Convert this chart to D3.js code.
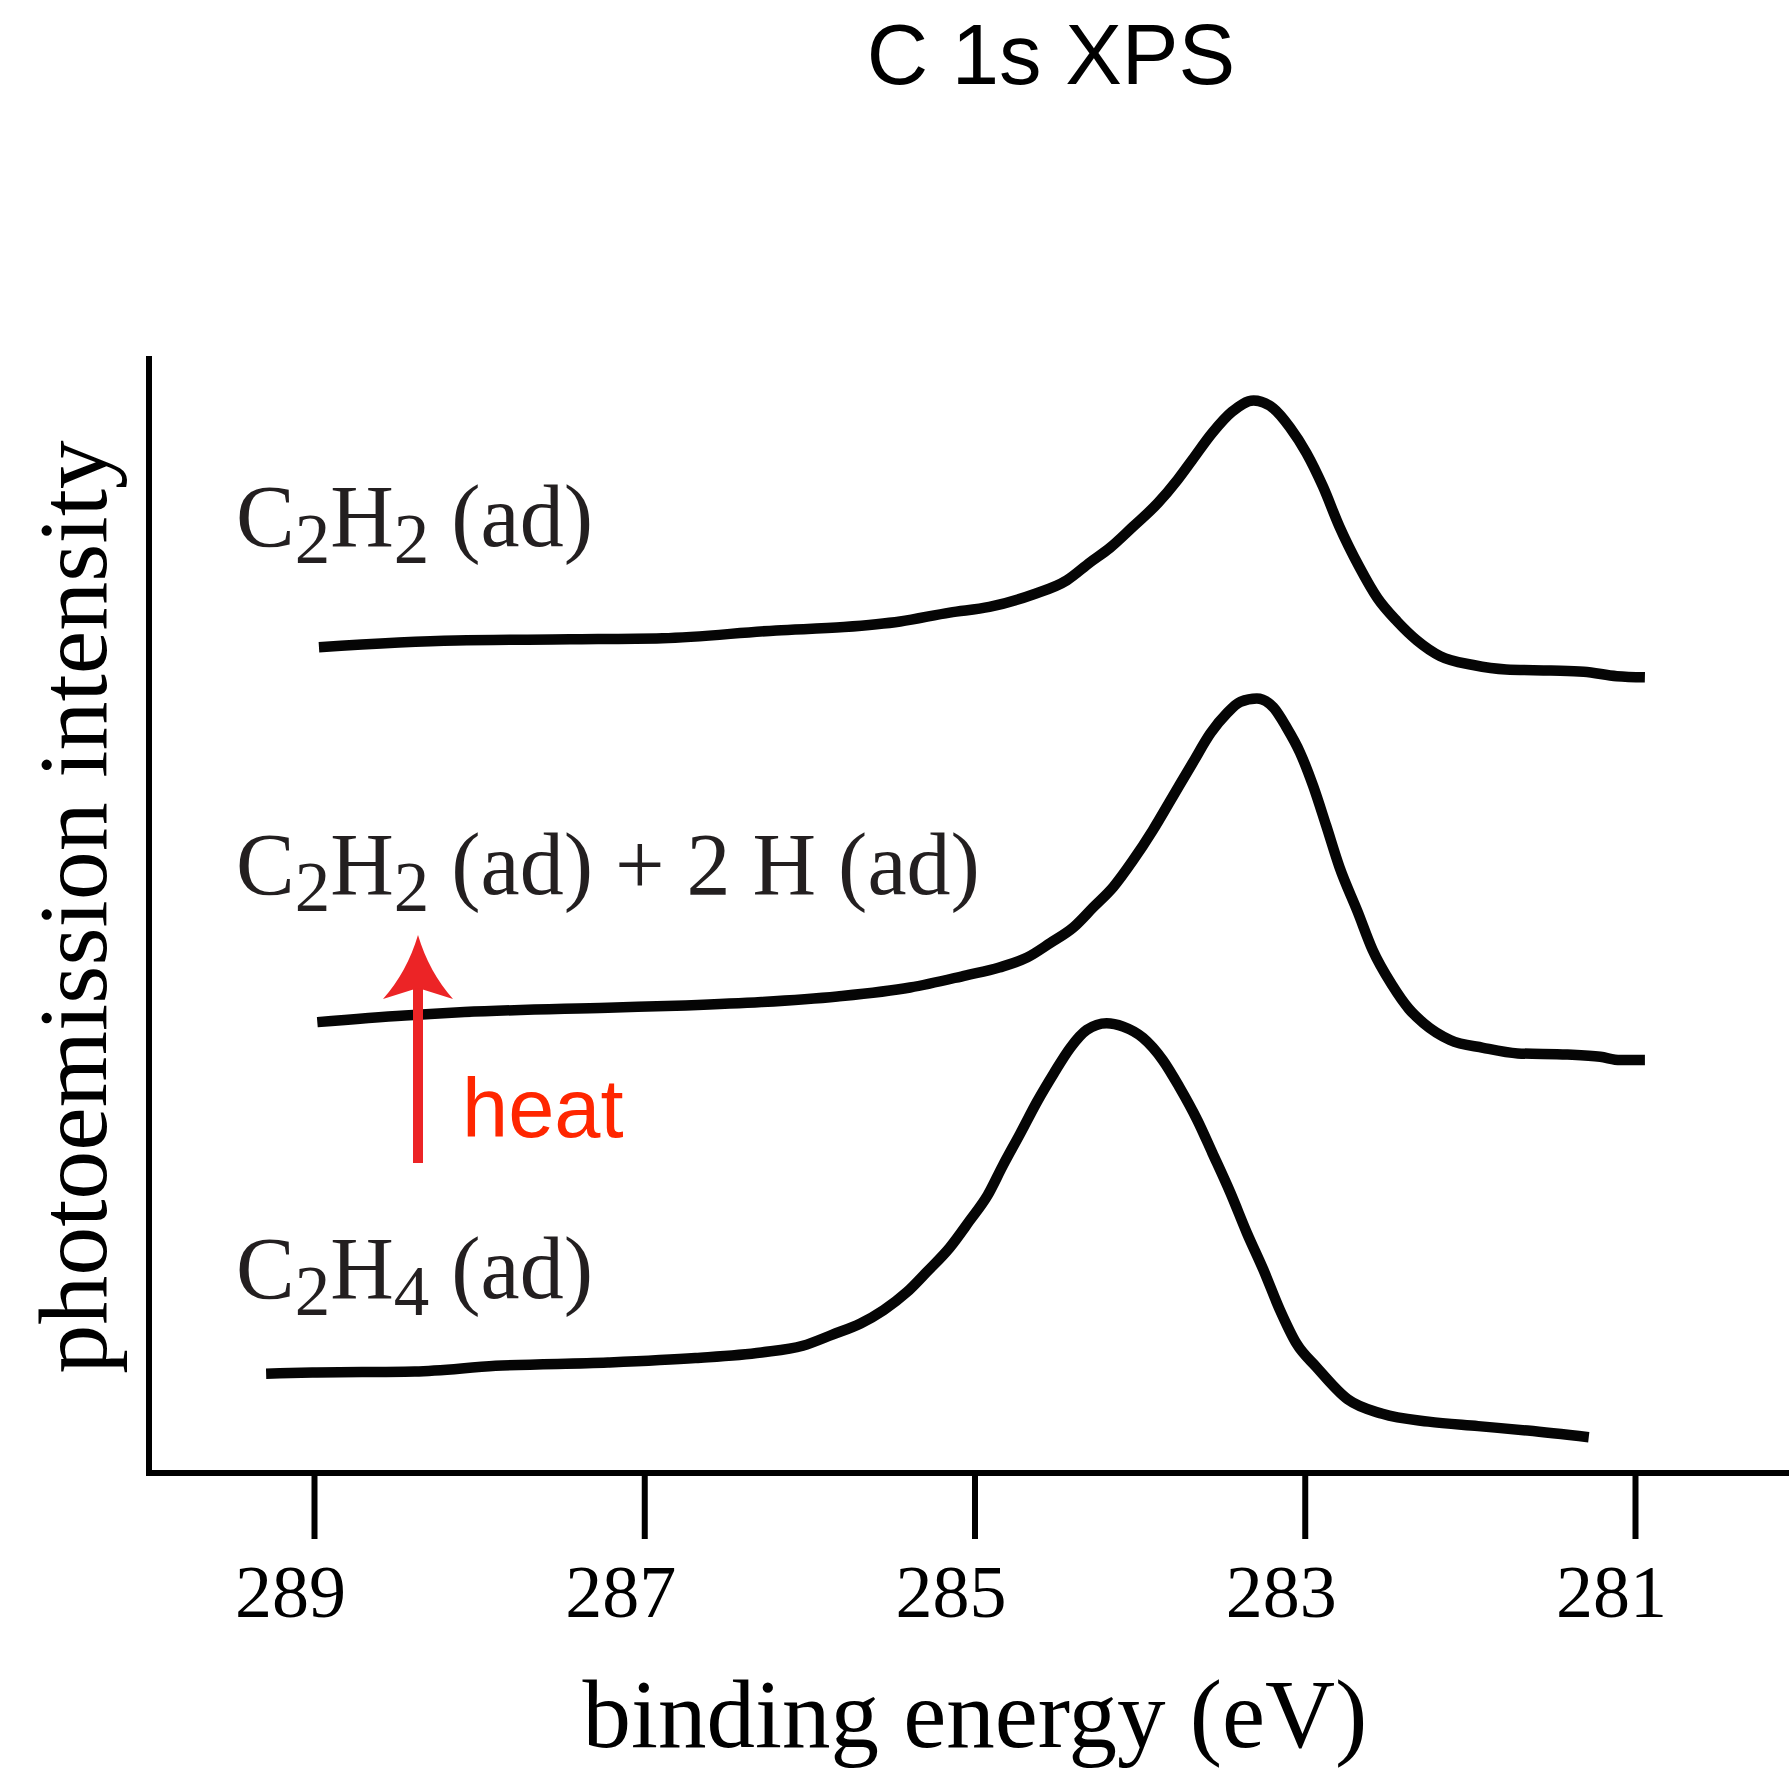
<!DOCTYPE html>
<html>
<head>
<meta charset="utf-8">
<script src="https://cdn.jsdelivr.net/npm/d3@7"></script>
<style>
  body { margin: 0; background: #fff; }
  svg { display: block; }
</style>
</head>
<body>
<script>
// C 1s XPS spectra, binding energy (eV) vs intensity (arbitrary units, stacked)

var tickValues = [289, 287, 285, 283, 281];

// C2H2 (ad) – top spectrum
var c2h2Energy = [288.97, 288.14, 287.45, 286.89, 286.20, 285.79, 285.45, 285.15, 284.91, 284.65,
    284.44, 284.30, 284.18, 284.04, 283.89, 283.77, 283.68, 283.56, 283.44, 283.31,
    283.19, 283.09, 282.99, 282.89, 282.79, 282.67, 282.56, 282.44, 282.32, 282.18,
    281.98, 281.78, 281.51, 281.31, 281.11, 280.94];
var c2h2Counts = [74.0, 74.6, 74.7, 74.8, 75.5, 75.8, 76.3, 77.1, 77.6, 78.7,
    80.0, 81.6, 82.9, 84.8, 86.9, 89.0, 90.8, 93.2, 95.1, 96.1,
    95.4, 93.7, 91.4, 88.4, 84.8, 81.2, 78.4, 76.3, 74.6, 73.2,
    72.4, 72.0, 71.9, 71.8, 71.4, 71.3];

// C2H2 (ad) + 2 H (ad) – middle spectrum
var c2h2hEnergy = [288.98, 288.45, 288.09, 287.22, 286.75, 286.29, 285.83, 285.39, 285.05, 284.85,
    284.68, 284.54, 284.40, 284.28, 284.16, 284.04, 283.92, 283.80, 283.68, 283.57,
    283.47, 283.39, 283.29, 283.19, 283.11, 283.03, 282.95, 282.87, 282.79, 282.68,
    282.59, 282.47, 282.37, 282.28, 282.12, 281.92, 281.71, 281.41, 281.21, 281.09, 280.94];
var c2h2hCounts = [40.4, 41.0, 41.3, 41.7, 41.9, 42.2, 42.7, 43.5, 44.6, 45.3,
    46.2, 47.5, 48.9, 50.7, 52.5, 54.9, 57.6, 60.6, 63.6, 66.3,
    68.1, 69.1, 69.4, 68.6, 66.8, 64.6, 61.6, 58.0, 54.3, 50.3,
    46.9, 43.7, 41.6, 40.3, 38.8, 38.1, 37.6, 37.5, 37.3, 37.0, 37.0];

// C2H4 (ad) – bottom spectrum
var c2h4Energy = [289.29, 289.01, 288.39, 287.90, 287.22, 286.69, 286.29, 286.04, 285.86, 285.69,
    285.55, 285.41, 285.29, 285.15, 285.03, 284.92, 284.83, 284.72, 284.62, 284.52,
    284.42, 284.32, 284.20, 284.10, 283.98, 283.86, 283.76, 283.65, 283.56, 283.45,
    283.35, 283.25, 283.15, 283.05, 282.93, 282.74, 282.53, 282.25, 281.95, 281.65, 281.28];
var c2h4Counts = [8.9, 9.0, 9.1, 9.6, 9.9, 10.3, 10.8, 11.4, 12.4, 13.4,
    14.6, 16.2, 18.0, 20.2, 22.6, 24.9, 27.5, 30.5, 33.3, 35.8,
    38.1, 39.7, 40.3, 40.0, 39.0, 37.0, 34.6, 31.6, 28.7, 25.1,
    21.5, 18.2, 14.6, 11.6, 9.5, 6.6, 5.3, 4.6, 4.2, 3.8, 3.2];

// labels: [text, isSubscript] parts
var labelTop = [["C", 0], ["2", 1], ["H", 0], ["2", 1], [" (ad)", 0]];
var labelMid = [["C", 0], ["2", 1], ["H", 0], ["2", 1], [" (ad) + 2 H (ad)", 0]];
var labelBot = [["C", 0], ["2", 1], ["H", 0], ["4", 1], [" (ad)", 0]];

window.onload = function(){
    var w = 1789, h = 1770;
    var serif = "'Liberation Serif', 'Times New Roman', serif";
    var sans = "'Liberation Sans', Arial, Helvetica, sans-serif";
    var ink = "#231f20";

    var svg = d3.select("body")
        .append("svg")
        .attr("width", w)
        .attr("height", h);

    // scales
    var x = d3.scaleLinear()
        .domain([289, 281])
        .range([314, 1635]);

    var y = d3.scaleLinear()
        .domain([0, 100])
        .range([1473, 357]);

    // title
    svg.append("text")
        .attr("x", 1051)
        .attr("y", 84)
        .attr("text-anchor", "middle")
        .style("font-family", sans)
        .style("font-size", "85px")
        .style("fill", "#000")
        .text("C 1s XPS");

    // x axis ticks + labels
    var xAxis = d3.axisBottom(x)
        .tickValues(tickValues)
        .tickSize(66)
        .tickSizeOuter(0)
        .tickFormat(d3.format("d"));

    var gx = svg.append("g")
        .attr("transform", "translate(0," + y(0) + ")")
        .call(xAxis);
    gx.select(".domain").remove();
    gx.selectAll(".tick line")
        .attr("stroke", "#000")
        .attr("stroke-width", 6);
    gx.selectAll(".tick text")
        .attr("y", 144)
        .attr("dy", 0)
        .attr("dx", -24)
        .style("font-family", serif)
        .style("font-size", "74px")
        .style("fill", "#000");

    // frame lines (axes)
    var xLeft = 146, yTop = 356;
    svg.append("path")
        .attr("d", "M" + (xLeft + 3) + "," + yTop + "V" + y(0) + "H" + w)
        .attr("fill", "none")
        .attr("stroke", "#000")
        .attr("stroke-width", 6)
        .attr("stroke-linejoin", "miter");

    // spectra
    var line = d3.line()
        .x(function(d){ return x(d[0]); })
        .y(function(d){ return y(d[1]); })
        .curve(d3.curveMonotoneX);

    var spectra = [
        d3.zip(c2h2Energy, c2h2Counts),
        d3.zip(c2h2hEnergy, c2h2hCounts),
        d3.zip(c2h4Energy, c2h4Counts)
    ];

    svg.selectAll(".spectrum")
        .data(spectra)
        .enter()
        .append("path")
        .attr("class", "spectrum")
        .attr("d", line)
        .attr("fill", "none")
        .attr("stroke", "#050505")
        .attr("stroke-width", 10.5)
        .attr("stroke-linejoin", "round")
        .attr("stroke-linecap", "butt");

    // spectrum labels with subscripts
    var labels = [
        { parts: labelTop, x: 236, y: 546 },
        { parts: labelMid, x: 236, y: 894 },
        { parts: labelBot, x: 236, y: 1298 }
    ];

    labels.forEach(function(l){
        var t = svg.append("text")
            .attr("x", l.x)
            .attr("y", l.y)
            .style("font-family", serif)
            .style("font-size", "88px")
            .style("fill", ink);
        var shifted = false;
        l.parts.forEach(function(p){
            var ts = t.append("tspan").text(p[0]);
            if (p[1]) {
                ts.style("font-size", "71px").attr("dy", shifted ? 0 : 17);
                shifted = true;
            } else {
                ts.attr("dy", shifted ? -17 : 0);
                shifted = false;
            }
        });
    });

    // heat arrow
    var arrowX = 418;
    svg.append("line")
        .attr("x1", arrowX)
        .attr("x2", arrowX)
        .attr("y1", 1163)
        .attr("y2", 985)
        .attr("stroke", "#ec2426")
        .attr("stroke-width", 10);

    svg.append("path")
        .attr("d", "M418,935 Q407,972 383,999 L418,988 L453,999 Q429,972 418,935 Z")
        .attr("fill", "#ec2426");

    svg.append("text")
        .attr("x", 462)
        .attr("y", 1137)
        .style("font-family", sans)
        .style("font-size", "83px")
        .style("fill", "#ff2600")
        .text("heat");

    // axis titles
    svg.append("text")
        .attr("x", 975)
        .attr("y", 1747)
        .attr("text-anchor", "middle")
        .style("font-family", serif)
        .style("font-size", "97px")
        .style("fill", "#000")
        .text("binding energy (eV)");

    svg.append("text")
        .attr("transform", "translate(106,907) rotate(-90)")
        .attr("text-anchor", "middle")
        .style("font-family", serif)
        .style("font-size", "98px")
        .style("fill", "#000")
        .text("photoemission intensity");
};
</script>
</body>
</html>
